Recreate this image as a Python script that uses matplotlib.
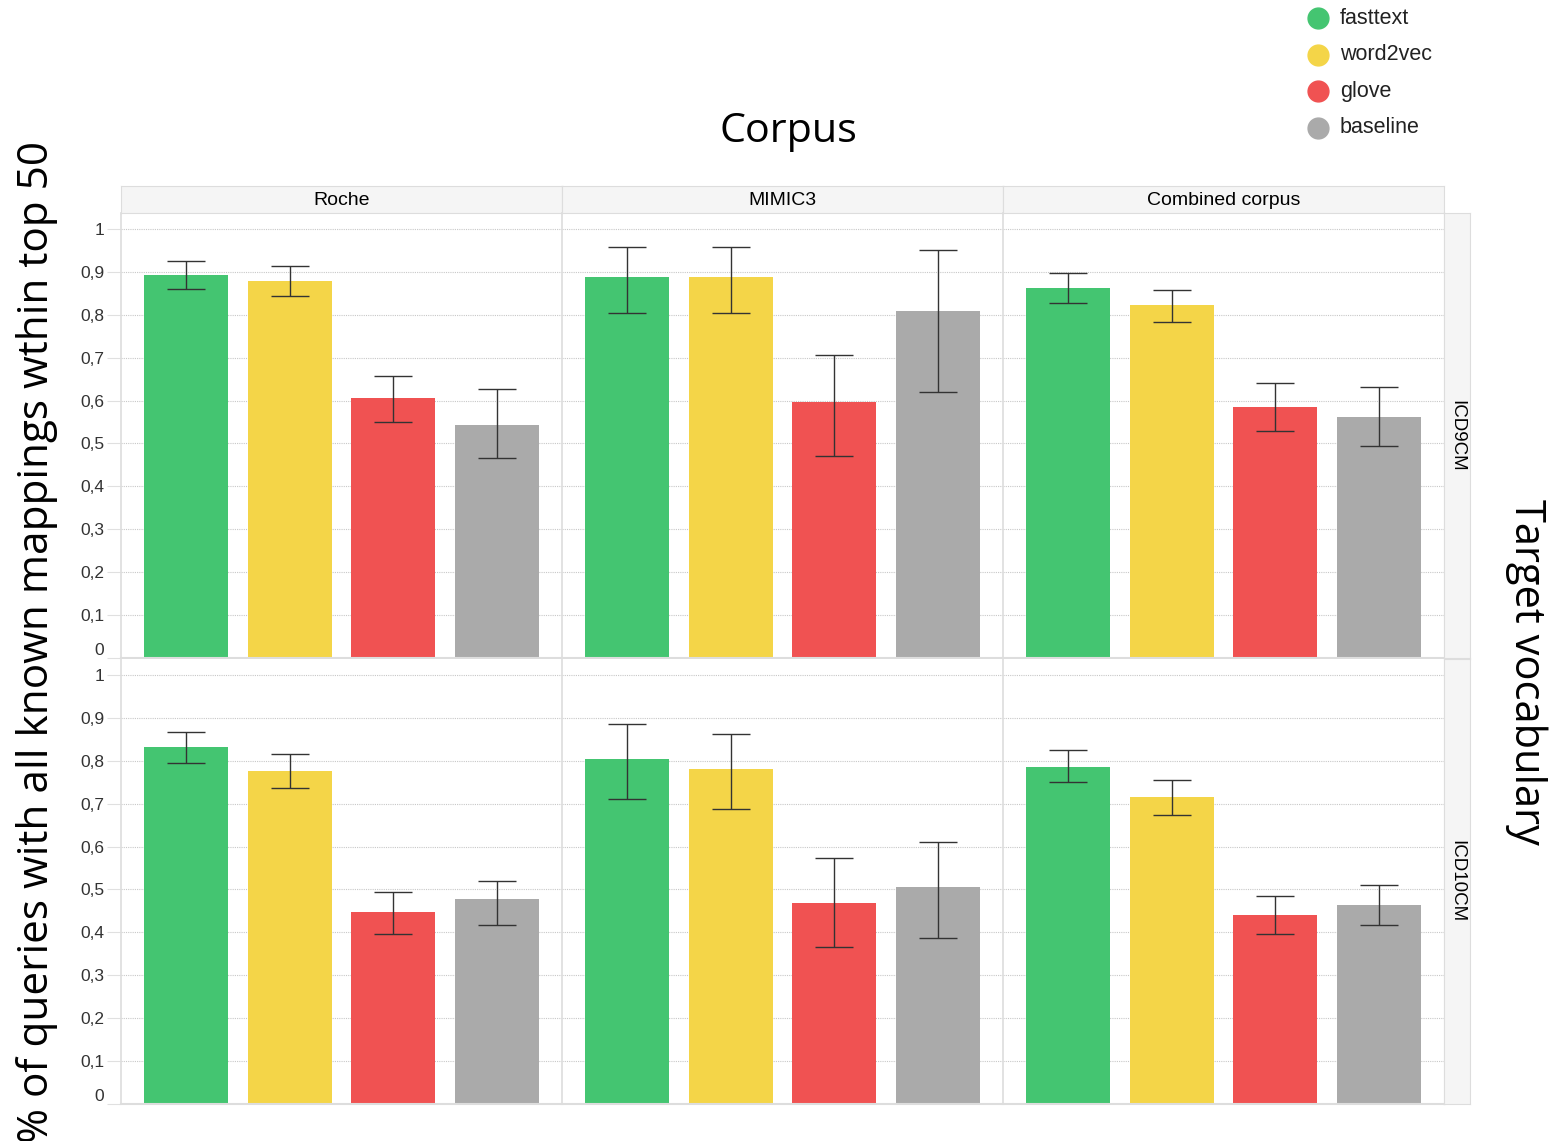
import numpy as np
import matplotlib.pyplot as plt

plt.rcParams['font.family'] = ['Liberation Sans', 'DejaVu Sans']

# ------------------------------------------------------------
# Data (value, upper and lower error end)
# ------------------------------------------------------------
models = ['fasttext', 'word2vec', 'glove', 'baseline']
colors = ['#44c571', '#f4d548', '#f05252', '#aaaaaa']
corpora = ['Roche', 'MIMIC3', 'Combined corpus']
vocabs = ['ICD9CM', 'ICD10CM']

icd9_mean = [[0.893, 0.879, 0.605, 0.544],
             [0.888, 0.888, 0.596, 0.808],
             [0.862, 0.822, 0.586, 0.561]]
icd9_hi = [[0.925, 0.914, 0.657, 0.626],
           [0.958, 0.958, 0.706, 0.951],
           [0.897, 0.857, 0.640, 0.631]]
icd9_lo = [[0.860, 0.844, 0.549, 0.467],
           [0.804, 0.804, 0.470, 0.619],
           [0.827, 0.783, 0.530, 0.493]]

icd10_mean = [[0.832, 0.776, 0.448, 0.478],
              [0.804, 0.781, 0.469, 0.506],
              [0.786, 0.716, 0.441, 0.464]]
icd10_hi = [[0.867, 0.816, 0.494, 0.520],
            [0.886, 0.862, 0.573, 0.611],
            [0.825, 0.755, 0.485, 0.510]]
icd10_lo = [[0.795, 0.737, 0.396, 0.417],
            [0.711, 0.688, 0.366, 0.387],
            [0.751, 0.674, 0.396, 0.417]]

yticks = [0, 0.1, 0.2, 0.3, 0.4, 0.5, 0.6, 0.7, 0.8, 0.9, 1]
ytick_labels = ['0', '0,1', '0,2', '0,3', '0,4', '0,5', '0,6', '0,7', '0,8', '0,9', '1']

data = {
    'ICD9CM': (icd9_mean, icd9_hi, icd9_lo),
    'ICD10CM': (icd10_mean, icd10_hi, icd10_lo),
}

# ------------------------------------------------------------
# Layout in pixels of the original picture
# ------------------------------------------------------------
W, H = 1567, 1141
fig = plt.figure(figsize=(W / 100, H / 100), dpi=100)

col_left = [121, 562, 1003]
col_w = 441
row_top = [213, 659]
row_h = 445
strip_col = '#f5f5f5'
line_col = '#dddddd'
big_font = ['Open Sans', 'DejaVu Sans']


def fig_rect(x, y, w, h):
    return [x / W, 1 - (y + h) / H, w / W, h / H]


x = np.arange(len(models))
for r, vocab in enumerate(vocabs):
    mean, hi, lo = data[vocab]
    for c, corpus in enumerate(corpora):
        ax = fig.add_axes(fig_rect(col_left[c], row_top[r], col_w, row_h))
        m = np.array(mean[c])
        err = np.array([m - np.array(lo[c]), np.array(hi[c]) - m])
        ax.bar(x, m, width=0.81, color=colors, zorder=2)
        ax.errorbar(x, m, yerr=err, fmt='none', ecolor='#333333',
                    elinewidth=1, capsize=14, capthick=1, zorder=3)
        ax.set_xlim(-0.63, 3.63)
        ax.set_ylim(0, 1.037)
        ax.set_xticks([])
        ax.set_yticks(yticks)
        ax.grid(axis='y', linestyle=(0, (1, 1)), color='#c8c8c8',
                linewidth=0.8, zorder=0)
        for s in ['top', 'right']:
            ax.spines[s].set_visible(False)
        ax.spines['left'].set_color(line_col)
        ax.spines['bottom'].set_color(line_col)
        ax.spines['left'].set_linewidth(1.2)
        ax.spines['bottom'].set_linewidth(1.5)
        if c == 0:
            ax.set_yticklabels(ytick_labels)
            ax.tick_params(axis='y', length=10, color='#e0e0e0',
                           labelsize=12.5, labelcolor='#333333', pad=2)
            ax.get_yticklabels()[0].set_verticalalignment('bottom')
        else:
            ax.tick_params(axis='y', length=0, labelleft=False)
        if c == 2:
            ax.spines['right'].set_visible(True)
            ax.spines['right'].set_color(line_col)

        # top strip for corpus names
        if r == 0:
            sax = fig.add_axes(fig_rect(col_left[c], 186, col_w, 27))
            sax.set_xticks([])
            sax.set_yticks([])
            sax.set_facecolor(strip_col)
            for s in sax.spines.values():
                s.set_color(line_col)
            sax.text(0.5, 0.45, corpus, ha='center', va='center',
                     fontsize=14, transform=sax.transAxes)

    # right strip for vocab names
    rax = fig.add_axes(fig_rect(1444, row_top[r], 26, row_h))
    rax.set_xticks([])
    rax.set_yticks([])
    rax.set_facecolor(strip_col)
    for s in rax.spines.values():
        s.set_color(line_col)
    rax.text(0.5, 0.5, vocab, ha='center', va='center', rotation=-90,
             fontsize=13.5, transform=rax.transAxes)

# titles
fig.text(788 / W, 1 - 132 / H, 'Corpus', ha='center', va='center',
         fontsize=29.7, family=big_font)
fig.text(1526 / W, 1 - 672 / H, 'Target vocabulary', ha='center',
         va='center', rotation=-90, fontsize=30, family=big_font)
fig.text(37 / W, 1 - 642 / H,
         '% of queries with all known mappings wthin top 50',
         ha='center', va='center', rotation=90, fontsize=30.4,
         family=big_font)

# legend
for i, (name, col) in enumerate(zip(models, colors)):
    yy = 1 - (18 + i * 36.5) / H
    fig.lines.append(plt.Line2D([1318 / W], [yy], marker='o', markersize=15,
                                color=col, markeredgecolor=col,
                                transform=fig.transFigure))
    fig.text(1340 / W, yy, name, ha='left', va='center', fontsize=15.5,
             color='#222222')

fig.savefig('out.png', dpi=100)
